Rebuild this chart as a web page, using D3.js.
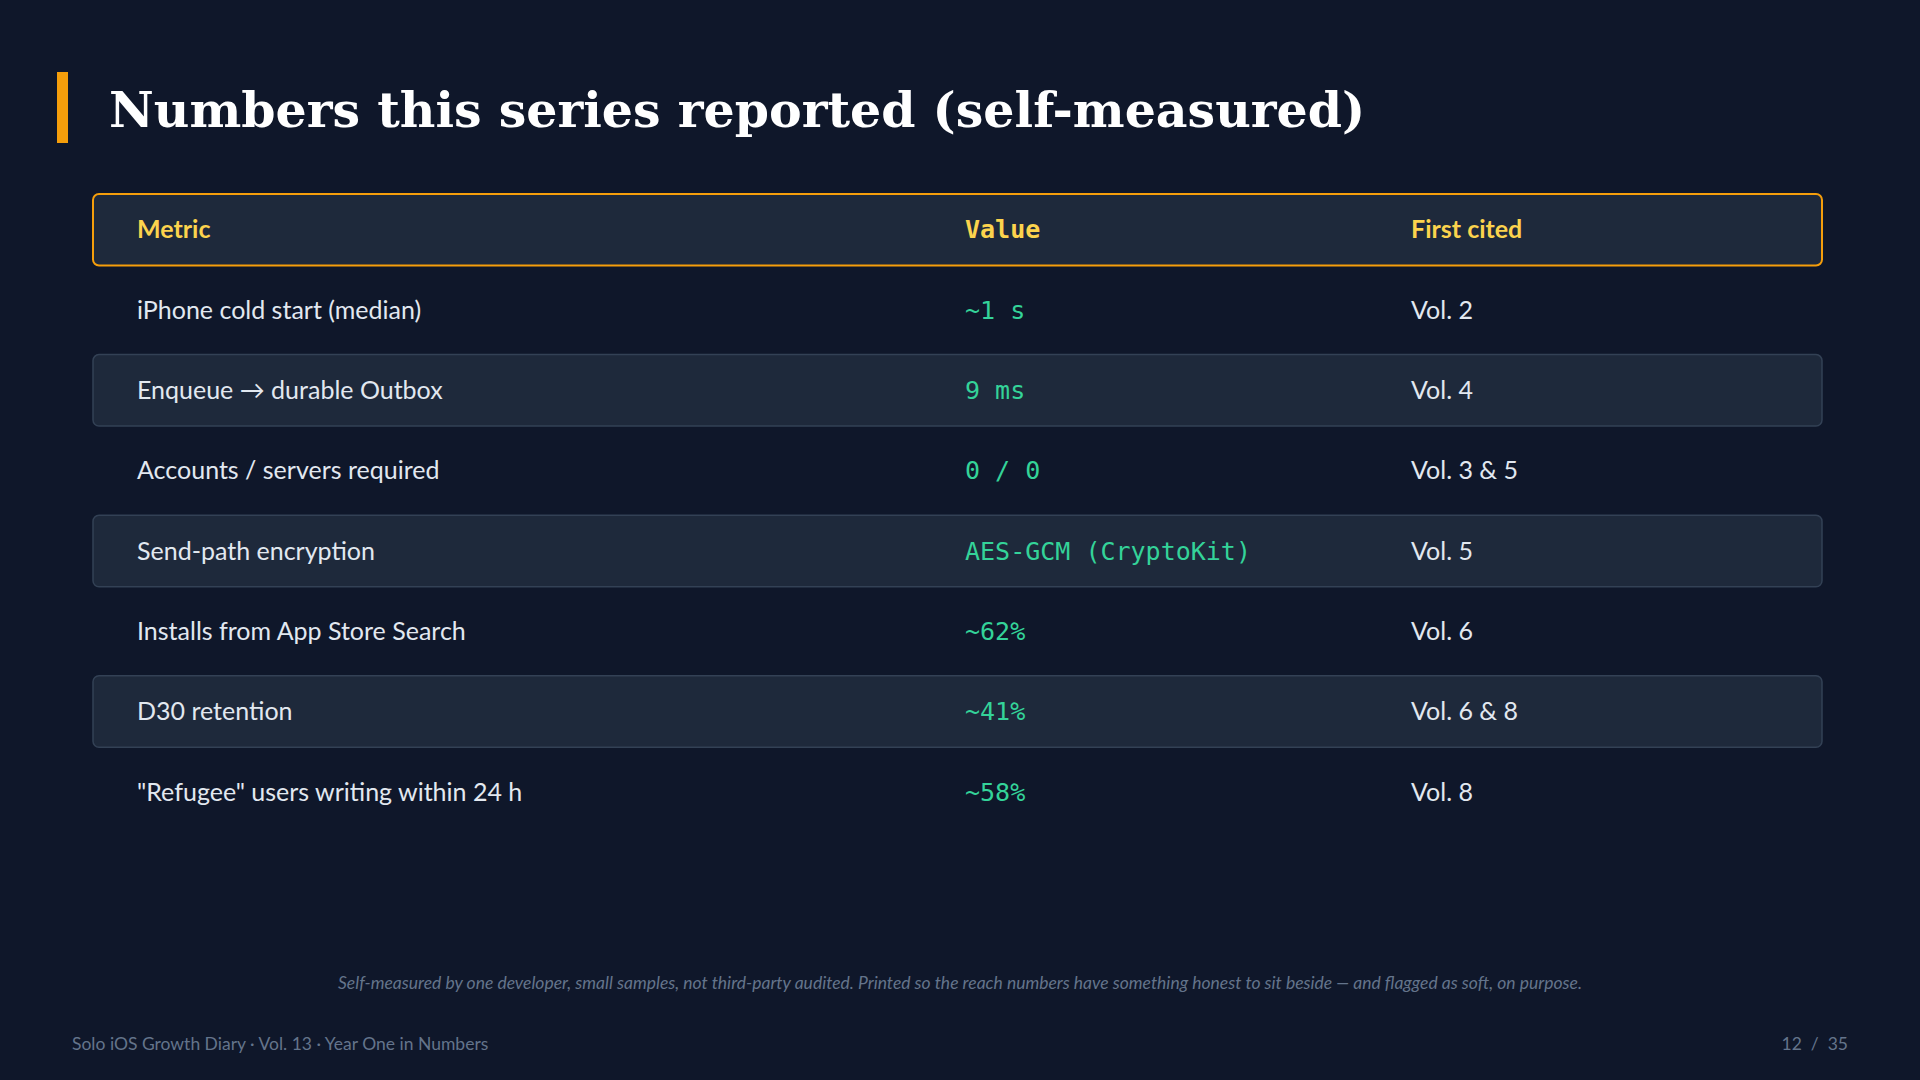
<!DOCTYPE html>
<html><head><meta charset="utf-8">
<script src="https://cdn.jsdelivr.net/npm/d3@7"></script>
<style>html,body{margin:0;padding:0;background:#0f172a;}svg{display:block;}</style>
</head><body><div id="chart"></div>
<script>
const title = 'Numbers this series reported (self-measured)';
const headers = ['Metric', 'Value', 'First cited'];
const metrics = ['iPhone cold start (median)', 'Enqueue \u2192 durable Outbox', 'Accounts / servers required',
  'Send-path encryption', 'Installs from App Store Search', 'D30 retention', '"Refugee" users writing within 24 h'];
const values = ['~1 s', '9 ms', '0 / 0', 'AES-GCM (CryptoKit)', '~62%', '~41%', '~58%'];
const cited = ['Vol. 2', 'Vol. 4', 'Vol. 3 & 5', 'Vol. 5', 'Vol. 6', 'Vol. 6 & 8', 'Vol. 8'];
const footnote = 'Self-measured by one developer, small samples, not third-party audited. Printed so the reach numbers have something honest to sit beside \u2014 and flagged as soft, on purpose.';
const footerLeft = 'Solo iOS Growth Diary \u00b7 Vol. 13 \u00b7 Year One in Numbers';
const footerRight = '12  /  35';

const W = 1920, H = 1080;
const sans = 'Lato, "Noto Sans", sans-serif';
const mono = '"DejaVu Sans Mono", monospace';

const svg = d3.select('#chart').append('svg').attr('width', W).attr('height', H);
svg.append('rect').attr('width', W).attr('height', H).attr('fill', '#0f172a');

// title
svg.append('rect').attr('x', 57).attr('y', 72).attr('width', 11).attr('height', 71).attr('fill', '#f59e0b');
svg.append('text').attr('x', 109).attr('y', 127).text(title)
  .attr('font-family', '"DejaVu Serif", serif').attr('font-weight', 'bold').attr('font-size', 49).attr('fill', '#ffffff');

// rows: header + data on a band scale
const rowKeys = ['header'].concat(d3.range(metrics.length));
const y = d3.scaleBand().domain(rowKeys).range([194, 194 + 79.2 * rowKeys.length]).paddingInner(0.11).paddingOuter(0);
const x = d3.scaleOrdinal().domain(headers).range([137, 965, 1411]);
const left = 93, right = 1822;

svg.append('rect').attr('x', left).attr('y', y('header')).attr('width', right - left).attr('height', y.bandwidth())
  .attr('rx', 6).attr('fill', '#1e293b').attr('stroke', '#f59e0b').attr('stroke-width', 2);
headers.forEach((h, i) => {
  svg.append('text').attr('x', x(h)).attr('y', y('header') + y.bandwidth() / 2).attr('dy', '0.35em').text(h)
    .attr('font-family', i === 1 ? mono : sans).attr('font-weight', 'bold')
    .attr('font-size', i === 1 ? 25 : 25).attr('fill', '#fcd34d');
});

const rows = svg.selectAll('g.row').data(d3.range(metrics.length)).join('g').attr('class', 'row')
  .attr('transform', i => `translate(0,${y(i)})`);
rows.filter(i => i % 2 === 1).append('rect').attr('x', left).attr('width', right - left).attr('height', y.bandwidth())
  .attr('rx', 6).attr('fill', '#1e293b').attr('stroke', '#334155').attr('stroke-width', 1.5);
rows.append('text').attr('x', x(headers[0])).attr('y', y.bandwidth() / 2).attr('dy', '0.35em')
  .text(i => metrics[i]).attr('font-family', sans).attr('font-size', 25).attr('fill', '#e2e8f0');
rows.append('text').attr('x', x(headers[1])).attr('y', y.bandwidth() / 2).attr('dy', '0.35em')
  .text(i => values[i]).attr('font-family', mono).attr('font-size', 25).attr('fill', '#34d399');
rows.append('text').attr('x', x(headers[2])).attr('y', y.bandwidth() / 2).attr('dy', '0.35em')
  .text(i => cited[i]).attr('font-family', sans).attr('font-size', 25).attr('fill', '#e2e8f0');

// footnote & footer
svg.append('text').attr('x', 960).attr('y', 989).attr('text-anchor', 'middle').text(footnote)
  .attr('font-family', sans).attr('font-style', 'italic').attr('font-size', 17.5).attr('fill', '#64748b');
svg.append('text').attr('x', 72).attr('y', 1050).text(footerLeft)
  .attr('font-family', sans).attr('font-size', 17.5).attr('fill', '#64748b');
svg.append('text').attr('x', 1848).attr('y', 1050).attr('text-anchor', 'end').text(footerRight)
  .attr('font-family', sans).attr('font-size', 17.5).attr('fill', '#64748b').style('white-space', 'pre');
</script></body></html>
